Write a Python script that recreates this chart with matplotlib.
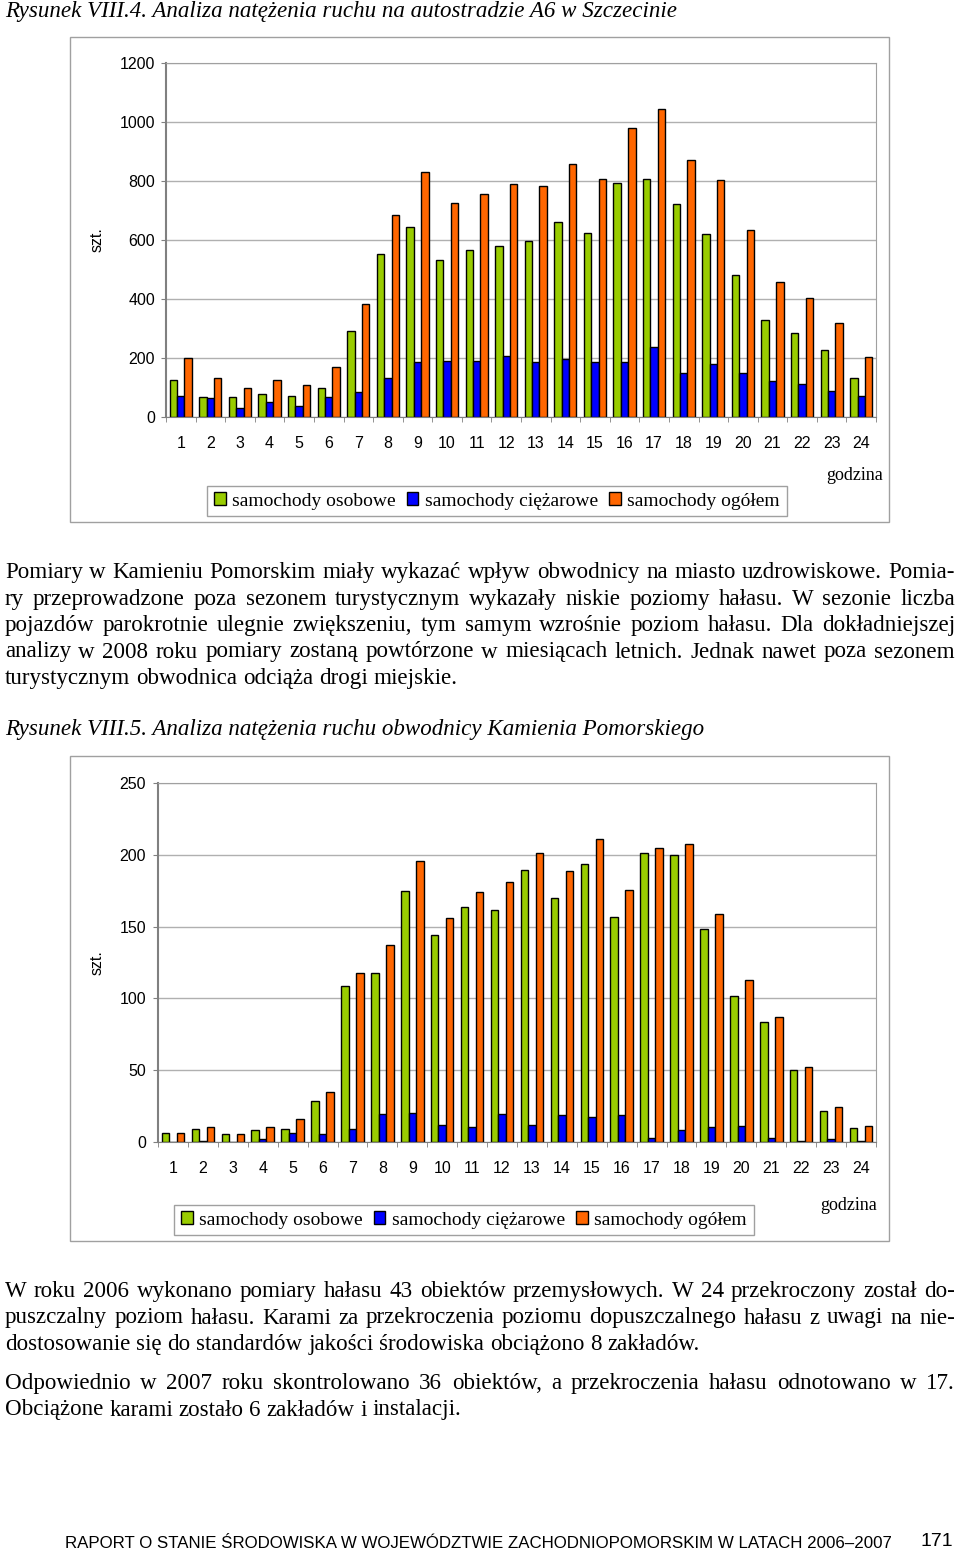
"""Rysunek VIII.4 / VIII.5 - natezenie ruchu, strona 171 raportu."""
import matplotlib
matplotlib.use("Agg")
import matplotlib.pyplot as plt
from matplotlib.patches import Patch, Rectangle

W, H = 960, 1553
SERIF = "Liberation Serif"
SANS = "Liberation Sans"

HOURS = list(range(1, 25))
SERIES = ["samochody osobowe", "samochody ciężarowe", "samochody ogółem"]
COLORS = ["#99CC00", "#0000FF", "#FF6600"]

# A6 Szczecin
A6_OSOBOWE = [127, 67, 67, 77, 72, 100, 291, 552, 643, 533, 565, 580,
              597, 661, 625, 793, 808, 721, 620, 483, 328, 286, 228, 131]
A6_CIEZAROWE = [72, 63, 32, 50, 36, 68, 86, 131, 186, 190, 190, 208,
                186, 196, 186, 186, 237, 149, 181, 149, 122, 113, 89, 72]
A6_OGOLEM = [200, 131, 100, 127, 109, 169, 383, 684, 831, 726, 757, 789,
             784, 857, 808, 980, 1045, 872, 804, 634, 456, 405, 318, 205]

# obwodnica Kamienia Pomorskiego
KP_OSOBOWE = [6.5, 9.3, 5.6, 8.3, 9.3, 28.7, 108.5, 117.7, 174.7, 143.9, 163.4, 161.5,
              189.6, 169.9, 193.3, 156.9, 201.6, 199.8, 148.6, 101.7, 83.9, 50.3, 21.3, 10]
KP_CIEZAROWE = [0, 0.7, 0, 1.9, 6.5, 5.6, 9.3, 19.5, 20.4, 12, 10.2, 19.5,
                12, 18.5, 17.6, 18.5, 2.8, 8.3, 10.2, 11.1, 2.8, 0.7, 1.9, 0.7]
KP_OGOLEM = [6.5, 10.2, 5.6, 10.2, 15.8, 34.5, 117.7, 137.4, 195.4, 156, 173.8, 181.2,
             201.6, 188.6, 211.1, 175.7, 204.6, 207.4, 158.7, 113.1, 86.9, 52.1, 24.1, 11.1]

TITLE1 = "Rysunek VIII.4. Analiza natężenia ruchu na autostradzie A6 w Szczecinie"
TITLE2 = "Rysunek VIII.5. Analiza natężenia ruchu obwodnicy Kamienia Pomorskiego"
PARA1 = ["Pomiary w Kamieniu Pomorskim miały wykazać wpływ obwodnicy na miasto uzdrowiskowe. Pomia-",
         "ry przeprowadzone poza sezonem turystycznym wykazały niskie poziomy hałasu. W sezonie liczba",
         "pojazdów parokrotnie ulegnie zwiększeniu, tym samym wzrośnie poziom hałasu. Dla dokładniejszej",
         "analizy w 2008 roku pomiary zostaną powtórzone w miesiącach letnich. Jednak nawet poza sezonem",
         "turystycznym obwodnica odciąża drogi miejskie."]
PARA2 = ["W roku 2006 wykonano pomiary hałasu 43 obiektów przemysłowych. W 24 przekroczony został do-",
         "puszczalny poziom hałasu. Karami za przekroczenia poziomu dopuszczalnego hałasu z uwagi na nie-",
         "dostosowanie się do standardów jakości środowiska obciążono 8 zakładów."]
PARA3 = ["Odpowiednio w 2007 roku skontrolowano 36 obiektów, a przekroczenia hałasu odnotowano w 17.",
         "Obciążone karami zostało 6 zakładów i instalacji."]
FOOTER = "RAPORT O STANIE ŚRODOWISKA W WOJEWÓDZTWIE ZACHODNIOPOMORSKIM W LATACH 2006–2007"
PAGE = "171"

BODY = 16.6
TITLE = 16.6


def fx(x): return x / W
def fy(y): return 1 - y / H


fig = plt.figure(figsize=(W / 100, H / 100), dpi=100)
r = fig.canvas.get_renderer()


def put_line(text, y, justify, x0=5, x1=955, **kw):
    # y = visual line centre; words are set on a common baseline
    words = text.split(" ")
    objs = [fig.text(0, fy(y + 6), w, va="baseline", **kw) for w in words]
    ws = [o.get_window_extent(r).width for o in objs]
    if justify and len(words) > 1:
        gap = (x1 - x0 - sum(ws)) / (len(words) - 1)
    else:
        a = fig.text(0, 0, "a a", **kw); b = fig.text(0, 0, "aa", **kw)
        gap = a.get_window_extent(r).width - b.get_window_extent(r).width
        a.remove(); b.remove()
    x = x0
    for o, w in zip(objs, ws):
        o.set_x(fx(x)); x += w + gap


def chart(box, frame, vals, ylim, step, legend_c, godz, label_pad, xpad):
    fig.add_artist(Rectangle((fx(frame[0]), fy(frame[3])), fx(frame[2] - frame[0]),
                             (frame[3] - frame[1]) / H, fill=False, ec="#A0A0A0", lw=1,
                             transform=fig.transFigure))
    l, t, rr, b = box
    ax = fig.add_axes([fx(l), fy(b), fx(rr - l), (b - t) / H])
    w = 0.25
    for k, (v, c) in enumerate(zip(vals, COLORS)):
        ax.bar([h + (k - 1) * w for h in HOURS], v, width=w, color=c, ec="black", lw=1)
    ax.set_xlim(0.5, 24.5); ax.set_ylim(0, ylim)
    ax.set_yticks(range(0, ylim + 1, step))
    ax.set_xticks(HOURS)
    ax.set_xticks([h + 0.5 for h in range(0, 25)], minor=True)
    ax.tick_params(axis="x", which="major", length=0, pad=xpad, labelsize=11.5)
    ax.tick_params(axis="x", which="minor", length=3.6, color="#808080")
    ax.tick_params(axis="y", length=3.6, color="#808080", pad=label_pad, labelsize=11.5)
    for lab in ax.get_xticklabels() + ax.get_yticklabels():
        lab.set_fontfamily(SANS)
    ax.grid(axis="y", color="#B0B0B0", lw=1); ax.set_axisbelow(True)
    ax.spines["left"].set_color("#808080"); ax.spines["left"].set_linewidth(1.5)
    ax.spines["bottom"].set_color("#808080")
    for s in ("top", "right"):
        ax.spines[s].set_color("#A0A0A0")
    fig.text(fx(97), fy((t + b) / 2), "szt.", rotation=90, ha="center", va="center",
             family=SANS, fontsize=11.5)
    fig.text(fx(godz[0]), fy(godz[1]), "godzina", ha="center", va="center",
             family=SERIF, fontsize=13)
    hs = [Patch(facecolor=c, edgecolor="black", lw=1) for c in COLORS]
    fig.legend(hs, SERIES, loc="center", bbox_to_anchor=(fx(legend_c[0]), fy(legend_c[1])),
               ncol=3, fancybox=False, framealpha=1, edgecolor="#A0A0A0",
               prop={"family": SERIF, "size": 14}, handlelength=0.6, handleheight=0.6,
               handletextpad=0.35, columnspacing=0.55, borderpad=0.35)
    return ax


fig.text(fx(5), fy(11), TITLE1, va="center", family=SERIF, style="italic", fontsize=TITLE)
chart((166, 63, 876, 417), (70, 37, 889, 522), [A6_OSOBOWE, A6_CIEZAROWE, A6_OGOLEM],
      1200, 200, (497, 501), (855, 475), 4.3, 14)

for i, line in enumerate(PARA1):
    put_line(line, 572 + i * 26.5, i < len(PARA1) - 1, family=SERIF, fontsize=BODY)

fig.text(fx(5), fy(729), TITLE2, va="center", family=SERIF, style="italic", fontsize=TITLE)
chart((158, 783, 876, 1142), (70, 756, 889, 1241), [KP_OSOBOWE, KP_CIEZAROWE, KP_OGOLEM],
      250, 50, (464, 1220), (849, 1206), 5, 13.5)

for i, line in enumerate(PARA2):
    put_line(line, 1291 + i * 26.5, i < len(PARA2) - 1, family=SERIF, fontsize=BODY)
for i, line in enumerate(PARA3):
    put_line(line, 1383 + i * 26.5, i < len(PARA3) - 1, family=SERIF, fontsize=BODY)

fig.text(fx(65), fy(1543), FOOTER, va="center", family=SANS, fontsize=12.2)
fig.text(fx(953), fy(1541), PAGE, va="center", ha="right", family=SANS, fontsize=14)

fig.savefig("out.png", dpi=100)
